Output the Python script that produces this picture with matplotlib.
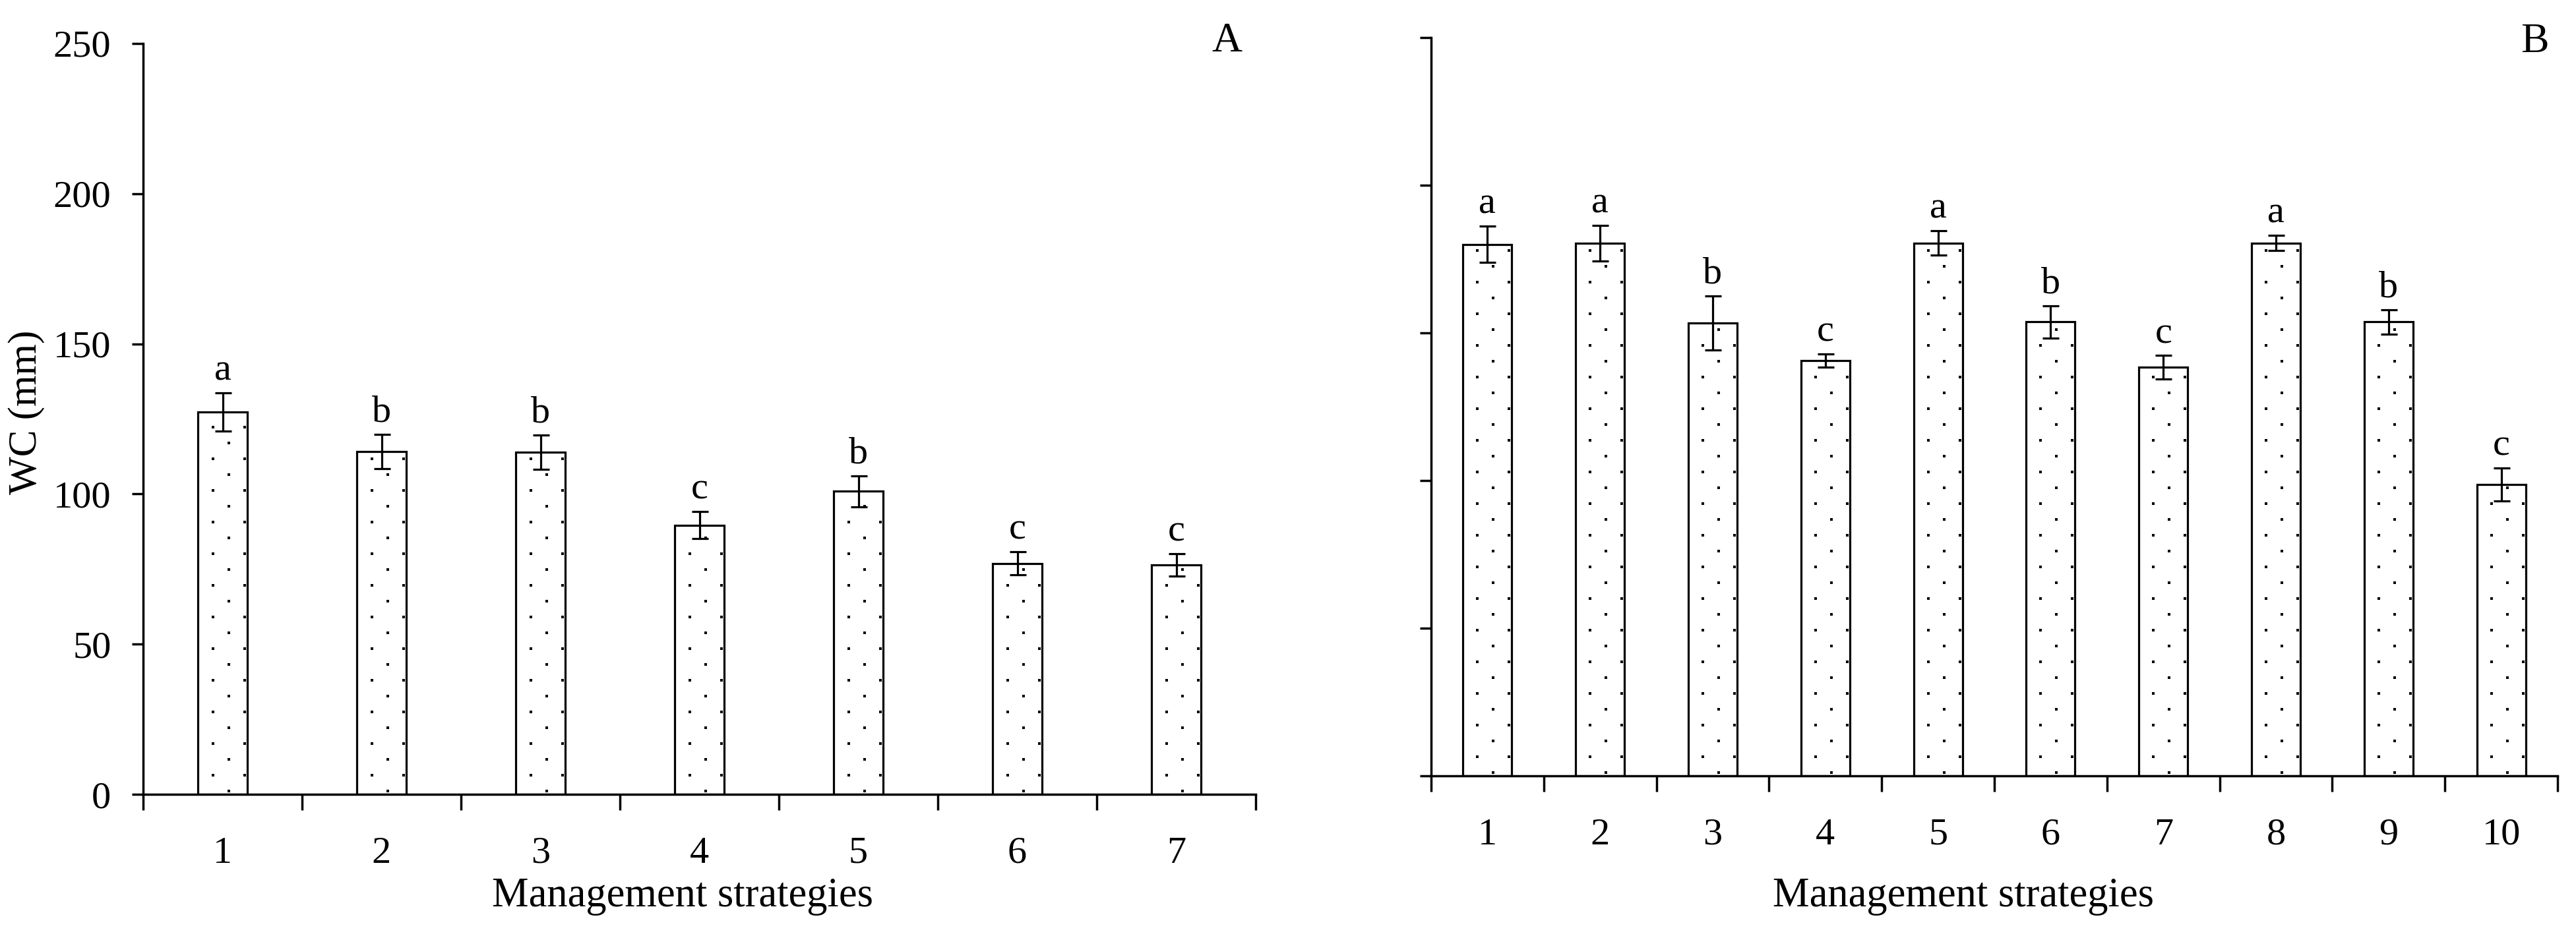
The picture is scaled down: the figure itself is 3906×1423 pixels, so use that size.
import matplotlib
matplotlib.use("Agg")
import matplotlib.pyplot as plt
import numpy as np

plt.rcParams['font.family'] = ['Liberation Serif', 'DejaVu Serif']

# panel A
strategies_a = [1, 2, 3, 4, 5, 6, 7]
wc_a = [127.3, 114.2, 113.9, 89.6, 100.9, 76.9, 76.4]
err_a = [6.4, 5.7, 5.8, 4.5, 5.2, 3.9, 3.8]
letters_a = ['a', 'b', 'b', 'c', 'b', 'c', 'c']

# panel B
strategies_b = [1, 2, 3, 4, 5, 6, 7, 8, 9, 10]
wc_b = [180.0, 180.3, 153.4, 140.6, 180.4, 153.7, 138.3, 180.4, 153.7, 98.6]
err_b = [6.2, 6.0, 9.2, 2.3, 4.1, 5.4, 4.0, 2.6, 4.2, 5.6]
letters_b = ['a', 'a', 'b', 'c', 'a', 'b', 'c', 'a', 'b', 'c']

yticks = [0, 50, 100, 150, 200, 250]

W, H = 3906, 1423
fig = plt.figure(figsize=(W / 100, H / 100), dpi=100)


def px_axes(left, right, top, bottom):
    return fig.add_axes([left / W, 1 - bottom / H, (right - left) / W, (bottom - top) / H])


def add_dots(ax, xs, hs):
    # dotted fill, laid out in pixel space like the original hatch
    pts = []
    for x, h in zip(xs, hs):
        (cx, y0), (_, y1) = ax.transData.transform([(x, 0), (x, h)])
        y = y0 + 5
        row = 0
        while y < y1 - 3:
            offs = [9] if row % 2 == 0 else [-15, 33]
            for o in offs:
                pts.append((cx + o, y))
            y += 24
            row += 1
    data = ax.transData.inverted().transform(pts)
    ax.scatter(data[:, 0], data[:, 1], marker='s', s=12, color='black', linewidths=0, zorder=3)


def draw_panel(ax, xs, vals, errs, letters, width, show_labels):
    n = len(xs)
    ax.set_xlim(0.5, n + 0.5)
    ax.set_ylim(0, 250)
    ax.bar(xs, vals, width=width, color='white', edgecolor='black', linewidth=2.3, zorder=2)
    add_dots(ax, xs, vals)
    ax.errorbar(xs, vals, yerr=errs, fmt='none', ecolor='black', elinewidth=2.3,
                capsize=9, capthick=2.3, zorder=4)
    for x, v, e, l in zip(xs, vals, errs, letters):
        ax.annotate(l, (x, v + e), xytext=(0, 14), textcoords='offset points',
                    ha='center', va='baseline', fontsize=42)
    for s in ['top', 'right']:
        ax.spines[s].set_visible(False)
    for s in ['left', 'bottom']:
        ax.spines[s].set_linewidth(2.5)
    ax.set_xticks(xs)
    ax.set_xticklabels([str(x) for x in xs])
    ax.set_xticks(np.arange(0.5, n + 1, 1), minor=True)
    ax.tick_params(axis='x', which='major', length=0, pad=46, labelsize=42)
    ax.tick_params(axis='x', which='minor', length=17, width=2.5, direction='out')
    ax.set_yticks(yticks)
    ax.tick_params(axis='y', length=12, width=2.5, direction='out', pad=23, labelsize=42,
                   labelleft=show_labels)


ax_a = px_axes(217, 1904, 66, 1205)
draw_panel(ax_a, strategies_a, wc_a, err_a, letters_a, 0.31, True)

ax_b = px_axes(2170, 3878, 57, 1177)
draw_panel(ax_b, strategies_b, wc_b, err_b, letters_b, 0.433, False)

fig.text(40 / W, 1 - 625 / H, 'WC (mm)', rotation=90, ha='center', va='center', fontsize=44)
fig.text(1035 / W, 1 - 1375 / H, 'Management strategies', ha='center', va='baseline', fontsize=45)
fig.text(2977 / W, 1 - 1375 / H, 'Management strategies', ha='center', va='baseline', fontsize=45)
fig.text(1860 / W, 1 - 63 / H, 'A', ha='center', va='center', fontsize=46)
fig.text(3843 / W, 1 - 64 / H, 'B', ha='center', va='center', fontsize=46)

fig.savefig('out.png', dpi=100)
